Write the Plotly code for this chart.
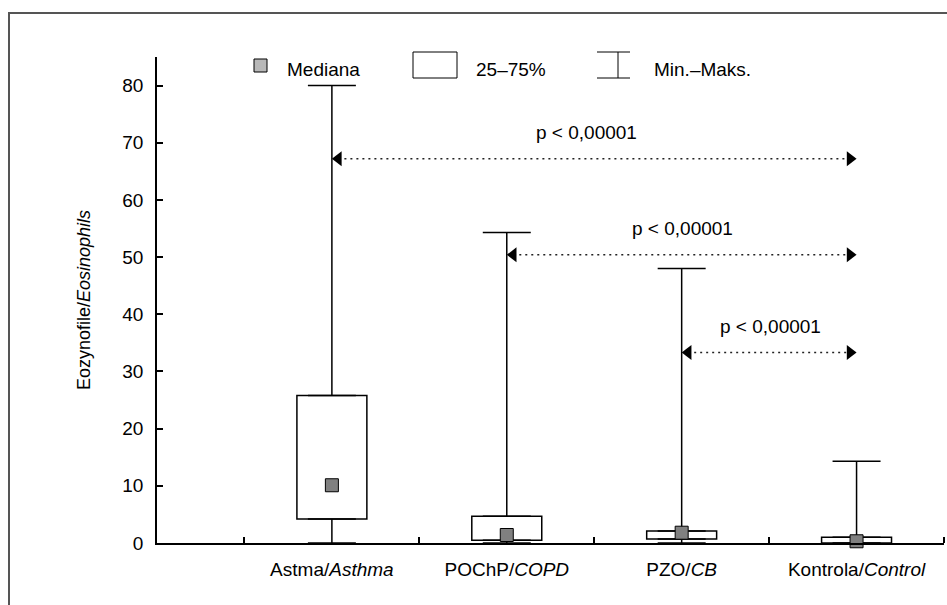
import plotly.graph_objects as go

# ---- data ----
categories = ["Astma/<i>Asthma</i>", "POChP/<i>COPD</i>", "PZO/<i>CB</i>", "Kontrola/<i>Control</i>"]
cat_pos = [1, 2, 3, 4]
minimum = [0.0, 0.0, 0.0, 0.0]
q1 = [4.2, 0.5, 0.7, 0.0]
median = [10.1, 1.4, 1.8, 0.3]
q3 = [25.8, 4.7, 2.1, 1.0]
maximum = [80.0, 54.3, 48.0, 14.3]

y_ticks = [0, 10, 20, 30, 40, 50, 60, 70, 80]
boundary_ticks = [0.5, 1.5, 2.5, 3.5, 4.5]

cmp_from = [1, 2, 3]
cmp_to = [4, 4, 4]
cmp_y = [67.2, 50.4, 33.3]
cmp_text = ["p < 0,00001", "p < 0,00001", "p < 0,00001"]

legend_labels = ["Mediana", "25–75%", "Min.–Maks."]
y_title = "Eozynofile/<i>Eosinophils</i>"

# ---- layout geometry ----
W, H = 947, 605
L, R, T, B = 157, 3, 57, 62
PW, PH = W - L - R, H - T - B
X_RANGE = [0, 4.5]
FONT = "Liberation Sans, Arial, sans-serif"
FS = 19


def px(x):
    return (x - L) / PW


def py(y):
    return (H - B - y) / PH


fig = go.Figure()

# boxes (25-75%)
fig.add_trace(go.Bar(
    x=cat_pos, base=q1, y=[b - a for a, b in zip(q1, q3)], width=0.4,
    marker=dict(color="white", line=dict(color="black", width=1.5)),
    showlegend=False, hoverinfo="skip"))

# upper whiskers
fig.add_trace(go.Scatter(
    x=cat_pos, y=q3, mode="markers", marker=dict(size=1, opacity=0),
    error_y=dict(type="data", symmetric=False,
                 array=[b - a for a, b in zip(q3, maximum)],
                 arrayminus=[0] * 4, width=24, thickness=1.5, color="black"),
    cliponaxis=False, showlegend=False, hoverinfo="skip"))

# lower whiskers
fig.add_trace(go.Scatter(
    x=cat_pos, y=q1, mode="markers", marker=dict(size=1, opacity=0),
    error_y=dict(type="data", symmetric=False,
                 array=[0] * 4,
                 arrayminus=[a - b for a, b in zip(q1, minimum)],
                 width=24, thickness=1.5, color="black"),
    cliponaxis=False, showlegend=False, hoverinfo="skip"))

# medians
fig.add_trace(go.Scatter(
    x=cat_pos, y=median, mode="markers",
    marker=dict(symbol="square", size=13, color="#808080",
                line=dict(color="black", width=1)),
    cliponaxis=False, showlegend=False, hoverinfo="skip"))

# comparison arrows
head = 13
off = (head / 2) / PW * (X_RANGE[1] - X_RANGE[0])
for i, (a, b, yv, txt) in enumerate(zip(cmp_from, cmp_to, cmp_y, cmp_text)):
    fig.add_trace(go.Scatter(
        x=[a + off, b - off], y=[yv, yv], mode="lines",
        line=dict(color="#222", width=1.5, dash="2px,4px"),
        showlegend=False, hoverinfo="skip"))
    fig.add_trace(go.Scatter(
        x=[a + off, b - off], y=[yv, yv], mode="markers",
        marker=dict(symbol=["triangle-left", "triangle-right"], size=head,
                    color="black", line=dict(width=0)),
        cliponaxis=False, showlegend=False, hoverinfo="skip"))
    fig.add_annotation(x=(a + b) / 2, y=yv, text=txt, showarrow=False,
                       yshift=26, xshift=-8 if i == 0 else 1,
                       xanchor="center", yanchor="middle",
                       font=dict(size=FS, color="black", family=FONT))

shapes = []
# outer frame
shapes.append(dict(type="rect", xref="paper", yref="paper",
                   x0=px(9), x1=px(1100), y0=py(13), y1=py(800),
                   line=dict(color="#555555", width=2), fillcolor="rgba(0,0,0,0)",
                   layer="below"))
# legend: median square
shapes.append(dict(type="rect", xref="paper", yref="paper",
                   x0=px(254), x1=px(267), y0=py(72), y1=py(59),
                   fillcolor="#b8b8b8", line=dict(color="black", width=1)))
# legend: box
shapes.append(dict(type="rect", xref="paper", yref="paper",
                   x0=px(413), x1=px(457), y0=py(78), y1=py(52),
                   fillcolor="white", line=dict(color="black", width=1)))
# legend: whisker symbol
for (x0, y0, x1, y1) in [(597, 52, 630, 52), (597, 78, 630, 78), (618, 52, 618, 78)]:
    shapes.append(dict(type="line", xref="paper", yref="paper",
                       x0=px(x0), x1=px(x1), y0=py(y0), y1=py(y1),
                       line=dict(color="black", width=1)))

for lbl, xl in zip(legend_labels, [285, 474, 652]):
    fig.add_annotation(xref="paper", yref="paper", x=px(xl), y=py(69),
                       text=lbl, showarrow=False, xanchor="left", yanchor="middle",
                       font=dict(size=FS, color="black", family=FONT))

# y axis title
fig.add_annotation(xref="paper", yref="paper", x=px(84), y=0.5, text=y_title,
                   textangle=-90, showarrow=False, xanchor="center", yanchor="middle",
                   font=dict(size=FS - 1, color="black", family=FONT))

fig.update_layout(
    width=W, height=H, autosize=False,
    margin=dict(l=L, r=R, t=T, b=B, pad=0),
    paper_bgcolor="white", plot_bgcolor="white",
    font=dict(family=FONT, size=FS, color="black"),
    shapes=shapes,
    showlegend=False,
    xaxis=dict(range=X_RANGE, tickvals=cat_pos, ticktext=categories,
               ticks="", showgrid=False, zeroline=False,
               showline=True, linecolor="black", linewidth=1.5,
               ticklabelstandoff=8,
               minor=dict(tickvals=boundary_ticks, ticks="inside", ticklen=6,
                          tickwidth=1.5, tickcolor="black", showgrid=False),
               tickfont=dict(size=FS, family=FONT)),
    yaxis=dict(range=[0, 85], tickvals=y_ticks, ticks="inside", ticklen=6,
               tickwidth=1.5, tickcolor="black", showgrid=False, zeroline=False,
               showline=True, linecolor="black", linewidth=1.5,
               ticklabelstandoff=8,
               tickfont=dict(size=FS, family=FONT)),
)

fig.write_html("out.html")
